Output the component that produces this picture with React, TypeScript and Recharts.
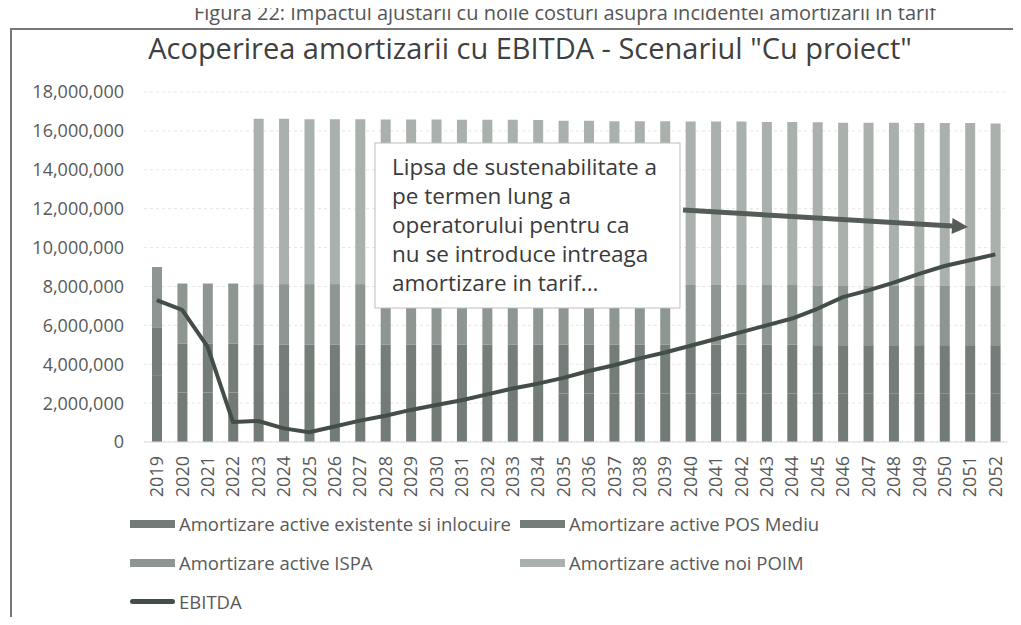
import { ComposedChart, Bar, Line, XAxis, YAxis, CartesianGrid } from 'recharts';

const years = [
  '2019', '2020', '2021', '2022', '2023', '2024', '2025', '2026', '2027', '2028',
  '2029', '2030', '2031', '2032', '2033', '2034', '2035', '2036', '2037', '2038',
  '2039', '2040', '2041', '2042', '2043', '2044', '2045', '2046', '2047', '2048',
  '2049', '2050', '2051', '2052',
];

// values in lei
const existente = [
  3400000, 2550000, 2550000, 2550000, 2520000, 2520000, 2520000, 2520000, 2520000, 2520000,
  2520000, 2520000, 2520000, 2520000, 2520000, 2520000, 2500000, 2500000, 2500000, 2500000,
  2500000, 2500000, 2500000, 2500000, 2500000, 2500000, 2480000, 2480000, 2480000, 2480000,
  2480000, 2480000, 2480000, 2480000,
];
const posMediu = [
  2500000, 2500000, 2500000, 2500000, 2500000, 2500000, 2500000, 2500000, 2500000, 2500000,
  2500000, 2500000, 2500000, 2500000, 2500000, 2500000, 2500000, 2500000, 2500000, 2500000,
  2500000, 2500000, 2500000, 2500000, 2500000, 2500000, 2500000, 2500000, 2500000, 2500000,
  2500000, 2500000, 2500000, 2500000,
];
const ispa = [
  3100000, 3100000, 3100000, 3100000, 3100000, 3100000, 3100000, 3100000, 3100000, 3100000,
  3100000, 3100000, 3100000, 3100000, 3100000, 3100000, 3080000, 3080000, 3080000, 3080000,
  3080000, 3080000, 3080000, 3080000, 3080000, 3080000, 3080000, 3080000, 3080000, 3080000,
  3080000, 3080000, 3080000, 3080000,
];
const noiPoim = [
  0, 0, 0, 0, 8500000, 8500000, 8480000, 8480000, 8480000, 8460000,
  8460000, 8460000, 8450000, 8450000, 8450000, 8440000, 8440000, 8440000, 8420000, 8420000,
  8420000, 8400000, 8400000, 8400000, 8380000, 8380000, 8380000, 8360000, 8360000, 8360000,
  8340000, 8340000, 8340000, 8320000,
];
const ebitda = [
  7300000, 6800000, 4900000, 1030000, 1080000, 700000, 500000, 800000, 1100000, 1350000,
  1650000, 1900000, 2150000, 2450000, 2750000, 3000000, 3300000, 3650000, 3950000, 4300000,
  4600000, 4950000, 5300000, 5650000, 6000000, 6350000, 6850000, 7450000, 7800000, 8200000,
  8650000, 9050000, 9350000, 9650000,
];

const yTicks = [0, 2000000, 4000000, 6000000, 8000000, 10000000, 12000000, 14000000, 16000000, 18000000];

const seriesNames = [
  'Amortizare active existente si inlocuire',
  'Amortizare active POS Mediu',
  'Amortizare active ISPA',
  'Amortizare active noi POIM',
  'EBITDA',
];

const noteLines = [
  'Lipsa de sustenabilitate a',
  'pe termen lung a',
  'operatorului pentru ca',
  'nu se introduce intreaga',
  'amortizare in tarif...',
];

const colors = {
  existente: '#727b76',
  posMediu: '#747d78',
  ispa: '#8e9691',
  noiPoim: '#aab0ac',
  ebitda: '#444e49',
  text: '#595959',
};

const data = years.map((year, i) => ({
  year,
  existente: existente[i],
  posMediu: posMediu[i],
  ispa: ispa[i],
  noiPoim: noiPoim[i],
  ebitda: ebitda[i],
}));

const font = '"Open Sans", sans-serif';

function YearTick({ x, y, payload }: any) {
  return (
    <text
      x={x}
      y={y + 6}
      transform={`rotate(-90, ${x}, ${y + 6})`}
      dy="0.36em"
      textAnchor="end"
      fill={colors.text}
      fontSize={18}
      fontFamily={font}
    >
      {payload.value}
    </text>
  );
}

function LegendRow({ color, label, line }: { color: string; label: string; line?: boolean }) {
  return (
    <div style={{ display: 'flex', alignItems: 'center', whiteSpace: 'nowrap' }}>
      <span
        style={{
          display: 'inline-block',
          width: 45,
          height: line ? 5 : 8,
          borderRadius: line ? 3 : 0,
          background: color,
          marginRight: 4,
        }}
      />
      <span>{label}</span>
    </div>
  );
}

export default function App() {
  const arrowFrom = { x: 683, y: 210 };
  const arrowTo = { x: 968, y: 227 };
  const ang = Math.atan2(arrowTo.y - arrowFrom.y, arrowTo.x - arrowFrom.x);
  const head = 16;
  const half = 8;
  const bx = arrowTo.x - head * Math.cos(ang);
  const by = arrowTo.y - head * Math.sin(ang);
  const headPts = [
    `${arrowTo.x},${arrowTo.y}`,
    `${bx - half * Math.sin(ang)},${by + half * Math.cos(ang)}`,
    `${bx + half * Math.sin(ang)},${by - half * Math.cos(ang)}`,
  ].join(' ');

  return (
    <div style={{ position: 'relative', width: 1021, height: 625, overflow: 'hidden', background: '#fff', margin: -8 }}>
      <div
        style={{
          position: 'absolute',
          top: 1,
          left: 565,
          transform: 'translateX(-50%)',
          whiteSpace: 'nowrap',
          fontFamily: font,
          fontSize: 20,
          lineHeight: '24px',
          color: '#555',
        }}
      >
        Figura 22: Impactul ajustarii cu noile costuri asupra incidentei amortizarii in tarif
      </div>
      <div
        style={{
          position: 'absolute',
          left: 10,
          top: 28,
          width: 1030,
          height: 620,
          borderLeft: '2px solid #777',
          borderTop: '2px solid #777',
        }}
      />
      <div
        style={{
          position: 'absolute',
          top: 28,
          left: 0,
          width: 1060,
          textAlign: 'center',
          fontFamily: font,
          fontSize: 29,
          color: '#404040',
        }}
      >
        Acoperirea amortizarii cu EBITDA - Scenariul "Cu proiect"
      </div>

      <div style={{ position: 'absolute', left: 0, top: 0 }}>
        <ComposedChart
          width={1021}
          height={625}
          data={data}
          margin={{ top: 92, right: 13, bottom: 123, left: 34 }}
          barSize={10}
        >
          <CartesianGrid vertical={false} stroke="#e6e6e6" strokeDasharray="3 3" />
          <XAxis
            dataKey="year"
            height={60}
            interval={0}
            tickLine={false}
            axisLine={{ stroke: '#dcdcdc' }}
            tick={<YearTick />}
          />
          <YAxis
            width={110}
            domain={[0, 18000000]}
            ticks={yTicks}
            tickFormatter={(v: number) => v.toLocaleString('en-US')}
            axisLine={false}
            tickLine={false}
            tickSize={0}
            tickMargin={20}
            tick={{ fill: colors.text, fontSize: 18, fontFamily: font }}
          />
          <Bar dataKey="existente" name={seriesNames[0]} stackId="a" fill={colors.existente} isAnimationActive={false} />
          <Bar dataKey="posMediu" name={seriesNames[1]} stackId="a" fill={colors.posMediu} isAnimationActive={false} />
          <Bar dataKey="ispa" name={seriesNames[2]} stackId="a" fill={colors.ispa} isAnimationActive={false} />
          <Bar dataKey="noiPoim" name={seriesNames[3]} stackId="a" fill={colors.noiPoim} isAnimationActive={false} />
          <Line
            type="linear"
            dataKey="ebitda"
            name={seriesNames[4]}
            stroke={colors.ebitda}
            strokeWidth={4}
            strokeLinejoin="round"
            dot={false}
            isAnimationActive={false}
          />
        </ComposedChart>
      </div>

      <svg width={1021} height={625} style={{ position: 'absolute', left: 0, top: 0, pointerEvents: 'none' }}>
        <rect x={375} y={143} width={305} height={165} fill="#fff" stroke="#bdbdbd" strokeWidth={1} />
        {noteLines.map((t, i) => (
          <text
            key={t}
            x={392}
            y={175 + i * 29}
            fontFamily={font}
            fontSize={22.5}
            fontWeight={500}
            fill="#3a3a3a"
          >
            {t}
          </text>
        ))}
        <line
          x1={arrowFrom.x}
          y1={arrowFrom.y}
          x2={bx}
          y2={by}
          stroke="#555d59"
          strokeWidth={5}
        />
        <polygon points={headPts} fill="#555d59" />
      </svg>

      <div
        style={{
          position: 'absolute',
          left: 130,
          top: 511,
          fontFamily: font,
          fontSize: 18.5,
          color: colors.text,
          display: 'grid',
          gridTemplateColumns: '390px 400px',
          rowGap: 14,
          lineHeight: '25px',
        }}
      >
        <LegendRow color={colors.existente} label={seriesNames[0]} />
        <LegendRow color={colors.posMediu} label={seriesNames[1]} />
        <LegendRow color={colors.ispa} label={seriesNames[2]} />
        <LegendRow color={colors.noiPoim} label={seriesNames[3]} />
        <LegendRow color={colors.ebitda} label={seriesNames[4]} line />
      </div>
    </div>
  );
}
